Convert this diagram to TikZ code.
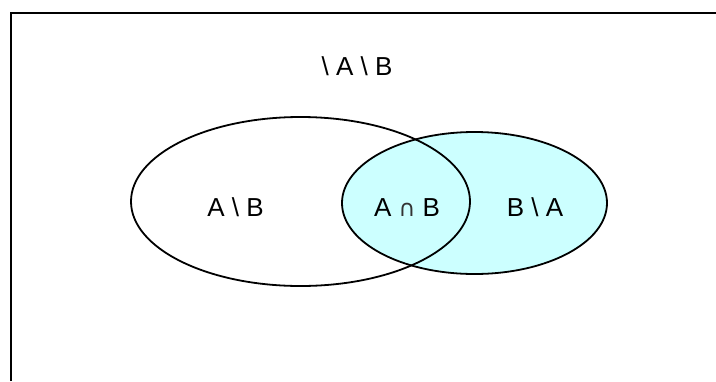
\documentclass[tikz,border=0pt]{standalone}
\usepackage{fontspec}
\setmainfont{Liberation Sans}
\newfontfamily\capfont{DejaVu Sans}
\definecolor{setfill}{HTML}{CCFFFF}
\begin{document}
\begin{tikzpicture}[x=1pt,y=-1pt,
  setline/.style={line width=1.8pt,black},
  setlabel/.style={anchor=base,inner sep=0pt,font=\fontsize{26}{26}\selectfont}]
  \useasboundingbox (0,0) rectangle (716,381);
  % universe frame (only its top and left sides fall inside the page)
  \draw[line width=2pt] (10.5,381) -- (10.5,12.5) -- (716,12.5);
  % set B, filled, then set A outlined on top
  \filldraw[setline,fill=setfill] (474.5,203) ellipse [x radius=132.5, y radius=71];
  \draw[setline] (300.5,201.5) ellipse [x radius=169.5, y radius=84.5];
  % region labels
  \node[setlabel] (outside) at (357,75) {\textbackslash\ A \textbackslash\ B};
  \node[setlabel] (aonly) at (235.5,216.5) {A \textbackslash\ B};
  \node[setlabel] (both) at (407,216.5) {A {\capfont\fontsize{23}{23}\selectfont\color{black!80}∩} B};
  \node[setlabel] (bonly) at (535,216.5) {B \textbackslash\ A};
\end{tikzpicture}
\end{document}
